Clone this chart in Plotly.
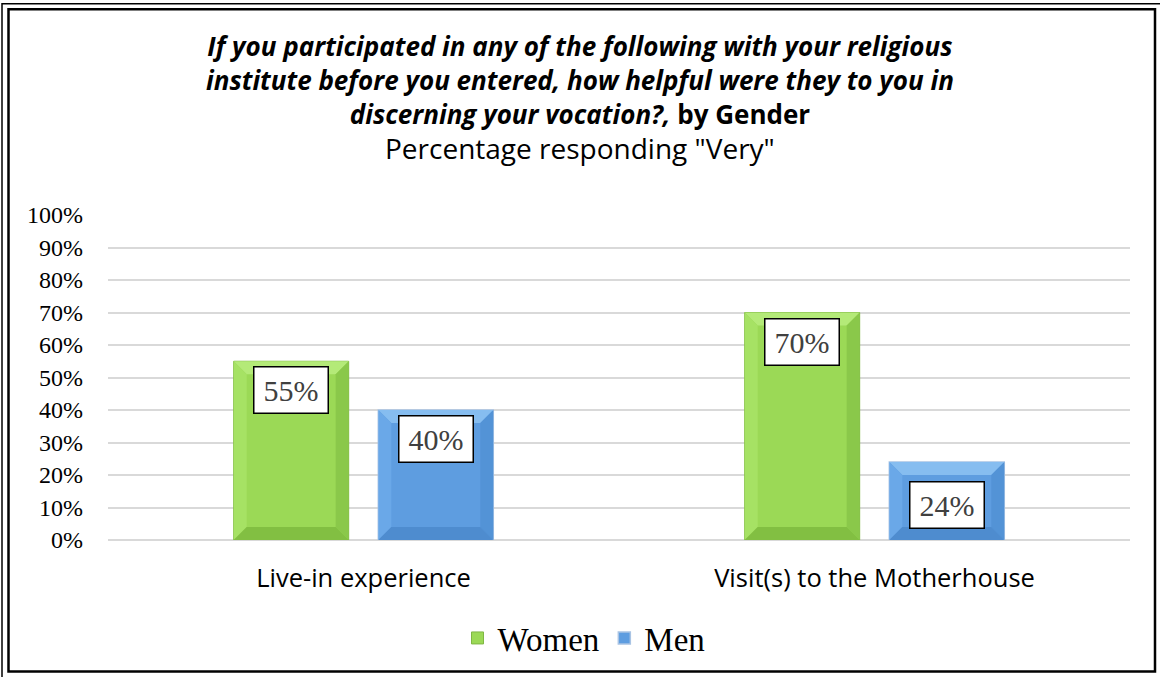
import plotly.graph_objects as go

categories = ["Live-in experience", "Visit(s) to the Motherhouse"]
women = [0.55, 0.70]
men = [0.40, 0.24]
women_labels = ["55%", "70%"]
men_labels = ["40%", "24%"]
tick_vals = [0, 0.1, 0.2, 0.3, 0.4, 0.5, 0.6, 0.7, 0.8, 0.9, 1.0]
tick_text = ["0%", "10%", "20%", "30%", "40%", "50%", "60%", "70%", "80%", "90%", "100%"]

W, H = 1160, 677
L, R, T, B = 108, 30, 215, 136
PW, PH = W - L - R, H - T - B

def px(X):
    return (X - L) / PW

def py(Y):
    return (H - B - Y) / PH

BAR_W = 0.225
OFF_W = -0.254
OFF_M = 0.029

GREEN = "#9bd956"
BLUE = "#5e9de0"

fig = go.Figure()
fig.add_trace(go.Bar(name="Women", x=categories, y=women, width=BAR_W, offset=OFF_W,
                     marker=dict(color=GREEN, line=dict(color="#7fb744", width=1))))
fig.add_trace(go.Bar(name="Men", x=categories, y=men, width=BAR_W, offset=OFF_M,
                     marker=dict(color=BLUE, line=dict(color="#a9c4e4", width=1.5))))

shapes = []
# bevel effect computed from the bar geometry
bx = 13 / (PW / 2)
byd = 13 / PH
def bevel(i, off, val, light, lighter, dark, darker):
    x0 = i + off
    x1 = x0 + BAR_W
    y0, y1 = 0, val
    pieces = [
        (f"M {x0} {y1} L {x1} {y1} L {x1-bx} {y1-byd} L {x0+bx} {y1-byd} Z", lighter),
        (f"M {x0} {y0} L {x0} {y1} L {x0+bx} {y1-byd} L {x0+bx} {y0+byd} Z", light),
        (f"M {x1} {y0} L {x1} {y1} L {x1-bx} {y1-byd} L {x1-bx} {y0+byd} Z", dark),
        (f"M {x0} {y0} L {x1} {y0} L {x1-bx} {y0+byd} L {x0+bx} {y0+byd} Z", darker),
    ]
    for p, c in pieces:
        shapes.append(dict(type="path", xref="x", yref="y", path=p,
                           fillcolor=c, line=dict(width=0), layer="above"))

for i in range(len(categories)):
    bevel(i, OFF_W, women[i], "#a6e264", "#b4ea78", "#8ac84a", "#82bf42")
    bevel(i, OFF_M, men[i], "#6aa8e8", "#86bdf0", "#5393d6", "#4e8ccf")

# double frame
shapes.append(dict(type="rect", xref="paper", yref="paper",
                   x0=px(2), x1=px(1170), y0=py(690), y1=py(3),
                   line=dict(color="black", width=1.5), fillcolor="rgba(0,0,0,0)", layer="above"))
shapes.append(dict(type="rect", xref="paper", yref="paper",
                   x0=px(8.5), x1=px(1155), y0=py(673), y1=py(8.5),
                   line=dict(color="black", width=2.5), fillcolor="rgba(0,0,0,0)", layer="above"))

annotations = []
label_font = dict(family="Liberation Serif", size=30, color="#404040")
w_shift = [-5, -5]
m_shift = [-5, -19]
for i, c in enumerate(categories):
    annotations.append(dict(x=i + OFF_W + BAR_W / 2, y=women[i], xref="x", yref="y",
                            text=women_labels[i], showarrow=False, yanchor="top", yshift=w_shift[i],
                            font=label_font, bgcolor="white", bordercolor="black",
                            borderwidth=1.5, borderpad=0, width=73, height=45))
    annotations.append(dict(x=i + OFF_M + BAR_W / 2, y=men[i], xref="x", yref="y",
                            text=men_labels[i], showarrow=False, yanchor="top", yshift=m_shift[i],
                            font=label_font, bgcolor="white", bordercolor="black",
                            borderwidth=1.5, borderpad=0, width=73, height=45))

title_text = ("<b><i>If you participated in any of the following with your religious</i></b><br>"
              "<b><i>institute before you entered, how helpful were they to you in</i></b><br>"
              "<b><i>discerning your vocation?,</i> by Gender</b>")
annotations.append(dict(x=px(580), y=py(80), xref="paper", yref="paper", text=title_text,
                        showarrow=False, xanchor="center", yanchor="middle", align="center",
                        font=dict(family="Open Sans", size=26, color="black")))
annotations.append(dict(x=px(580), y=py(148), xref="paper", yref="paper",
                        text='Percentage responding "Very"', showarrow=False,
                        xanchor="center", yanchor="middle",
                        font=dict(family="Open Sans", size=28, color="black")))

fig.update_layout(
    width=W, height=H,
    margin=dict(l=L, r=R, t=T, b=B),
    paper_bgcolor="white", plot_bgcolor="white",
    showlegend=True,
    legend=dict(orientation="h", x=px(584), xanchor="center", y=py(638), yanchor="middle",
                font=dict(family="Liberation Serif", size=33, color="black"),
                itemwidth=30, traceorder="normal"),
    shapes=shapes,
    annotations=annotations,
    xaxis=dict(type="category", showgrid=False, showline=False, ticks="",
               tickfont=dict(family="Open Sans", size=25.5, color="black"),
               ticklabelstandoff=20, range=[-0.5, 1.5]),
    yaxis=dict(range=[0, 1.0], tickvals=tick_vals, ticktext=tick_text,
               showgrid=True, gridcolor="#d9d9d9", gridwidth=1.5,
               zeroline=True, zerolinecolor="#d9d9d9", zerolinewidth=1.5,
               showline=False, ticks="",
               tickfont=dict(family="Liberation Serif", size=24, color="black"),
               ticklabelstandoff=24),
)

fig.write_html("out.html", config={"displayModeBar": False},
               post_script="document.body.style.margin='0px';")
